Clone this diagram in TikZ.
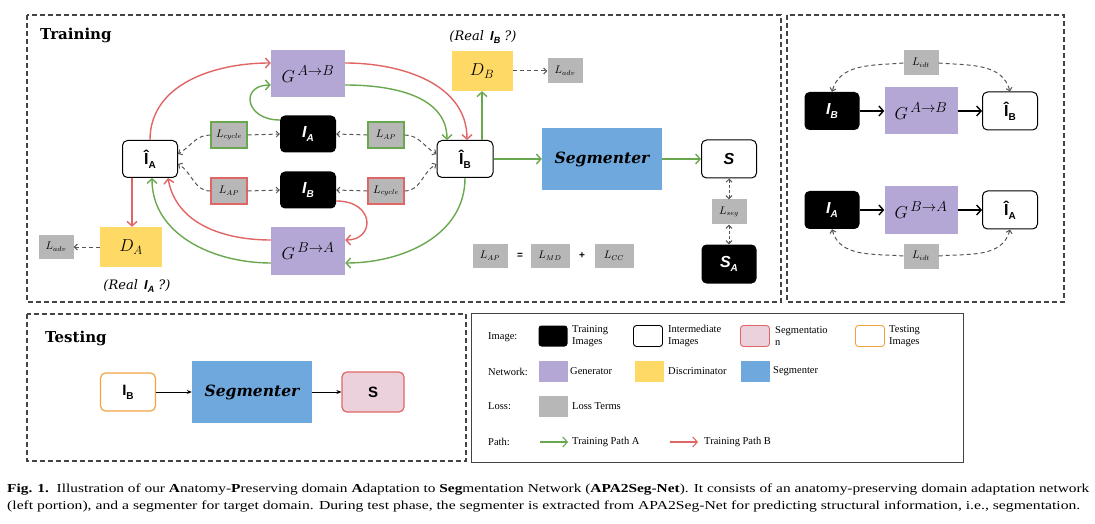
\documentclass[tikz,border=0pt]{standalone}
\usepackage{fontspec}
\usepackage{graphicx}
\setmainfont{Liberation Serif}
\newfontfamily\dvs{DejaVu Serif}
\newfontfamily\lsans{Liberation Sans}
\usetikzlibrary{arrows.meta}
\definecolor{ppurple}{HTML}{B4A7D6}
\definecolor{pyellow}{HTML}{FFD966}
\definecolor{pblue}{HTML}{6FA8DC}
\definecolor{lgray}{HTML}{B7B7B7}
\definecolor{pgreen}{HTML}{6AA84F}
\definecolor{pred}{HTML}{E06666}
\definecolor{ppink}{HTML}{EAD1DC}
\definecolor{porange}{HTML}{F4A340}
\definecolor{dgray}{HTML}{555555}
\definecolor{fgray}{HTML}{444444}
\tikzset{
  panel/.style={draw=fgray, line width=1.2pt, dash pattern=on 5pt off 3pt},
  lossbox/.style={fill=lgray, minimum width=35, minimum height=25, inner sep=0pt, font=\fontsize{10.5}{10.5}\selectfont},
  lossg/.style={lossbox, draw=pgreen, line width=1.2pt, minimum width=36, minimum height=26},
  lossr/.style={lossbox, draw=pred, line width=1.2pt, minimum width=36, minimum height=26},
  hatbox/.style={draw=black, fill=white, line width=1pt, rounded corners=5pt, minimum width=55, minimum height=37, inner sep=0pt},
  blackbox/.style={fill=black, rounded corners=5pt, minimum width=56, minimum height=37, inner sep=0pt, text=white},
  genbox/.style={fill=ppurple, minimum width=74, minimum height=47, inner sep=0pt, font=\fontsize{19}{19}\selectfont},
  discbox/.style={fill=pyellow, minimum width=62, minimum height=40, inner sep=0pt, font=\fontsize{18}{18}\selectfont},
  segbox/.style={fill=pblue, minimum width=120, minimum height=62, inner sep=0pt, font=\dvs\bfseries\itshape\fontsize{15.5}{15.5}\selectfont},
  garrow/.style={draw=pgreen, line width=1.4pt, -{Straight Barb[length=4.5pt,width=10pt]}},
  rarrow/.style={draw=pred, line width=1.4pt, -{Straight Barb[length=4.5pt,width=10pt]}},
  darrow/.style={draw=dgray, line width=1pt, dash pattern=on 4pt off 3pt, -{Straight Barb[length=3pt,width=6pt]}},
  ddarrow/.style={draw=dgray, line width=1pt, dash pattern=on 3pt off 2pt, {Straight Barb[length=3pt,width=6pt]}-{Straight Barb[length=3pt,width=6pt]}},
  karrow/.style={draw=black, line width=1.4pt, -{Straight Barb[length=4.5pt,width=10pt]}},
  tarrow/.style={draw=black, line width=0.8pt, -{Stealth[length=5pt,width=4pt]}},
  legtext/.style={font=\fontsize{10.5}{12.5}\selectfont, align=left, anchor=west, inner sep=0pt},
  legbox/.style={minimum width=29, minimum height=21, inner sep=0pt},
  title/.style={font=\dvs\bfseries\fontsize{15}{15}\selectfont, anchor=west, inner sep=0pt},
}
\newcommand{\imgI}[2]{{\lsans\bfseries\itshape\fontsize{16}{16}\selectfont #1\raisebox{-4pt}{\fontsize{10}{10}\selectfont #2}}}
\newcommand{\hatI}[1]{{\lsans\bfseries\fontsize{16}{16}\selectfont Î\raisebox{-4pt}{\fontsize{10}{10}\selectfont #1}}}
\begin{document}
\begin{tikzpicture}[x=1pt,y=1pt]
\useasboundingbox (0,0) rectangle (1095,523);
% panels
\draw[panel] (27,508) rectangle (781,221);
\draw[panel] (787,508) rectangle (1064,221);
\draw[panel] (27,209) rectangle (466,62);
\draw[draw=fgray, line width=1pt] (471,210) rectangle (963,61);

% ===== Training =====
\node[title] (ttrain) at (40,488) {Training};
\node[hatbox] (hatA) at (150,364) {\hatI{A}};
\node[genbox] (gAB) at (308,449) {$G^{\,A\to B}$};
\node[blackbox] (IA) at (308,389) {\imgI{I}{A}};
\node[blackbox] (IB) at (308,333) {\imgI{I}{B}};
\node[genbox] (gBA) at (308,272) {$G^{\,B\to A}$};
\node[lossg] (LcycG) at (229,388) {$L_{cycle}$};
\node[lossg] (LapG) at (386,388) {$L_{AP}$};
\node[lossr] (LapR) at (229,332) {$L_{AP}$};
\node[lossr] (LcycR) at (386,332) {$L_{cycle}$};
\node[hatbox, minimum width=56] (hatB) at (465,364) {\hatI{B}};
\node[discbox, minimum width=61] (DB) at (482,452) {$D_B$};
\node[lossbox] (LadvB) at (565,452) {$L_{adv}$};
\node[font=\dvs\itshape\fontsize{13}{13}\selectfont] (realB) at (483,486) {(Real \,{\lsans\bfseries\itshape I\raisebox{-3pt}{\fontsize{9}{9}\selectfont B}} ?)};
\node[segbox] (seg) at (602,364) {Segmenter};
\node[hatbox, minimum height=38] (S) at (729,364) {{\lsans\bfseries\itshape\fontsize{16}{16}\selectfont S}};
\node[lossbox] (Lseg) at (729,311) {$L_{seg}$};
\node[blackbox, minimum width=55, minimum height=39] (SA) at (729,259) {\imgI{S}{A}};
\node[lossbox, minimum height=24] (LAPf) at (490,267) {$L_{AP}$};
\node[font=\lsans\bfseries\fontsize{10}{10}\selectfont] (eq) at (520,267) {=};
\node[lossbox, minimum width=39, minimum height=24] (LMD) at (550,267) {$L_{MD}$};
\node[font=\lsans\bfseries\fontsize{10}{10}\selectfont] (plus) at (582,267) {+};
\node[lossbox, minimum width=39, minimum height=24] (LCC) at (614,267) {$L_{CC}$};
\node[discbox] (DA) at (131,276) {$D_A$};
\node[lossbox, minimum height=24] (LadvA) at (56,276) {$L_{adv}$};
\node[font=\dvs\itshape\fontsize{13}{13}\selectfont] (realA) at (137,237) {(Real \,{\lsans\bfseries\itshape I\raisebox{-3pt}{\fontsize{9}{9}\selectfont A}} ?)};

% red path B
\draw[rarrow] (hatA.north) to[out=90,in=180] ([yshift=11pt]gAB.west);
\draw[rarrow] ([yshift=11pt]gAB.east) to[out=0,in=90] ([xshift=2pt]hatB.north);
\draw[rarrow] ([yshift=-11pt]IB.east) .. controls +(39,0) and +(30,0) .. ([yshift=11pt]gBA.east);
\draw[rarrow] ([yshift=11pt]gBA.west) to[out=180,in=-80] ([xshift=18pt]hatA.south);
\draw[rarrow] ([xshift=-18pt]hatA.south) -- ([xshift=-18pt]hatA.south |- DA.north);
% green path A
\draw[garrow] ([yshift=14pt]IA.west) .. controls +(-35,0) and +(-31,0) .. ([yshift=-11pt]gAB.west);
\draw[garrow] ([yshift=-11pt]gAB.east) to[out=0,in=90] ([xshift=-18pt]hatB.north);
\draw[garrow] ([xshift=17pt]hatB.north) -- (DB.south);
\draw[garrow] (hatB.east) -- (seg.west);
\draw[garrow] (seg.east) -- (S.west);
\draw[garrow] (hatB.south) to[out=-90,in=0] ([yshift=-12pt]gBA.east);
\draw[garrow] ([yshift=-12pt]gBA.west) to[out=180,in=-90] ([xshift=2pt]hatA.south);
% dashed loss arrows
\draw[darrow] (LcycG.east) -- (IA.west);
\draw[darrow] (LcycG.west) to[out=180,in=30] ([yshift=5pt]hatA.east);
\draw[darrow] (LapR.west) to[out=180,in=-30] ([yshift=-5pt]hatA.east);
\draw[darrow] (LapR.east) -- (IB.west);
\draw[darrow] (LapG.west) -- (IA.east);
\draw[darrow] (LapG.east) to[out=0,in=150] ([yshift=5pt]hatB.west);
\draw[darrow] (LcycR.west) -- (IB.east);
\draw[darrow] (LcycR.east) to[out=0,in=-150] ([yshift=-5pt]hatB.west);
\draw[darrow] (DA.west) -- (LadvA.east);
\draw[darrow] (DB.east) -- (LadvB.west);
\draw[ddarrow] (S.south) -- (Lseg.north);
\draw[ddarrow] (Lseg.south) -- (SA.north);

% ===== Identity panel =====
\node[blackbox, minimum width=55, minimum height=38] (rIB) at (832,412) {\imgI{I}{B}};
\node[genbox, minimum width=73] (rgAB) at (921,412) {$G^{\,A\to B}$};
\node[hatbox, minimum height=38] (rhatB) at (1010,412) {\hatI{B}};
\node[lossbox] (Lidt1) at (921,460) {$L_{idt}$};
\node[blackbox, minimum width=55, minimum height=38] (rIA) at (832,313) {\imgI{I}{A}};
\node[genbox, minimum width=73] (rgBA) at (921,313) {$G^{\,B\to A}$};
\node[hatbox, minimum height=38] (rhatA) at (1010,313) {\hatI{A}};
\node[lossbox] (Lidt2) at (921,267) {$L_{idt}$};
\draw[karrow] (rIB.east) -- (rgAB.west);
\draw[karrow] (rgAB.east) -- (rhatB.west);
\draw[karrow] (rIA.east) -- (rgBA.west);
\draw[karrow] (rgBA.east) -- (rhatA.west);
\draw[darrow] (Lidt1.west) to[out=185,in=75] (rIB.north);
\draw[darrow] (Lidt1.east) to[out=-5,in=105] (rhatB.north);
\draw[darrow] (Lidt2.west) to[out=175,in=-75] (rIA.south);
\draw[darrow] (Lidt2.east) to[out=5,in=-105] (rhatA.south);

% ===== Testing =====
\node[title] (ttest) at (45,185) {Testing};
\node[draw=porange, line width=1.2pt, fill=white, rounded corners=5pt, minimum width=55, minimum height=38, inner sep=0pt] (tIB) at (128,131) {{\lsans\bfseries\fontsize{15}{15}\selectfont I\raisebox{-4pt}{\fontsize{10}{10}\selectfont B}}};
\node[segbox] (tseg) at (252,131) {Segmenter};
\node[draw=pred, line width=1.2pt, fill=ppink, rounded corners=5pt, minimum width=62, minimum height=40, inner sep=0pt] (tS) at (373,131) {{\lsans\bfseries\fontsize{15}{15}\selectfont S}};
\draw[tarrow] (tIB.east) -- (tseg.west);
\draw[tarrow] (tseg.east) -- (tS.west);

% ===== Legend =====
\node[legtext] (lImg) at (488,186) {Image:};
\node[legtext] (lNet) at (488,151) {Network:};
\node[legtext] (lLoss) at (488,117) {Loss:};
\node[legtext] (lPath) at (488,81) {Path:};
\node[legbox, fill=black, rounded corners=3pt] (b1) at (553,187) {};
\node[legtext] (t1) at (572,187) {Training\\Images};
\node[legbox, draw=black, line width=0.9pt, rounded corners=3pt] (b2) at (648,187) {};
\node[legtext] (t2) at (668,187) {Intermediate\\Images};
\node[legbox, draw=pred, fill=ppink, line width=0.9pt, rounded corners=3pt] (b3) at (755,187) {};
\node[legtext] (t3) at (775,187) {Segmentatio\\n};
\node[legbox, draw=porange, line width=0.9pt, rounded corners=3pt] (b4) at (870,187) {};
\node[legtext] (t4) at (889,187) {Testing\\Images};
\node[legbox, fill=ppurple] (b5) at (553,152) {};
\node[legtext] (t5) at (570,152) {Generator};
\node[legbox, fill=pyellow] (b6) at (649,152) {};
\node[legtext] (t6) at (668,152) {Discriminator};
\node[legbox, fill=pblue] (b7) at (755,152) {};
\node[legtext] (t7) at (773,152) {Segmenter};
\node[legbox, fill=lgray] (b8) at (553,117) {};
\node[legtext] (t8) at (572,117) {Loss Terms};
\coordinate (pa1) at (540,81);
\coordinate (pa2) at (568,81);
\coordinate (pb1) at (670,81);
\coordinate (pb2) at (698,81);
\draw[garrow, line width=1.1pt] (pa1) -- (pa2);
\draw[rarrow, line width=1.1pt] (pb1) -- (pb2);
\node[legtext] (t9) at (572,81) {Training Path A};
\node[legtext] (t10) at (704,81) {Training Path B};

% ===== Caption =====
\node[anchor=base west, inner sep=0pt] (cap1) at (7,31) {\resizebox{1082pt}{8.6pt}{\fontsize{12}{12}\selectfont\textbf{Fig. 1.}\ \ Illustration of our \textbf{A}natomy-\textbf{P}reserving domain \textbf{A}daptation to \textbf{Seg}mentation Network (\textbf{APA2Seg-Net}). It consists of an anatomy-preserving domain adaptation network}};
\node[anchor=base west, inner sep=0pt] (cap2) at (7,14) {\resizebox{1073pt}{8.6pt}{\fontsize{12}{12}\selectfont (left portion), and a segmenter for target domain. During test phase, the segmenter is extracted from APA2Seg-Net for predicting structural information, i.e., segmentation.}};
\end{tikzpicture}
\end{document}
